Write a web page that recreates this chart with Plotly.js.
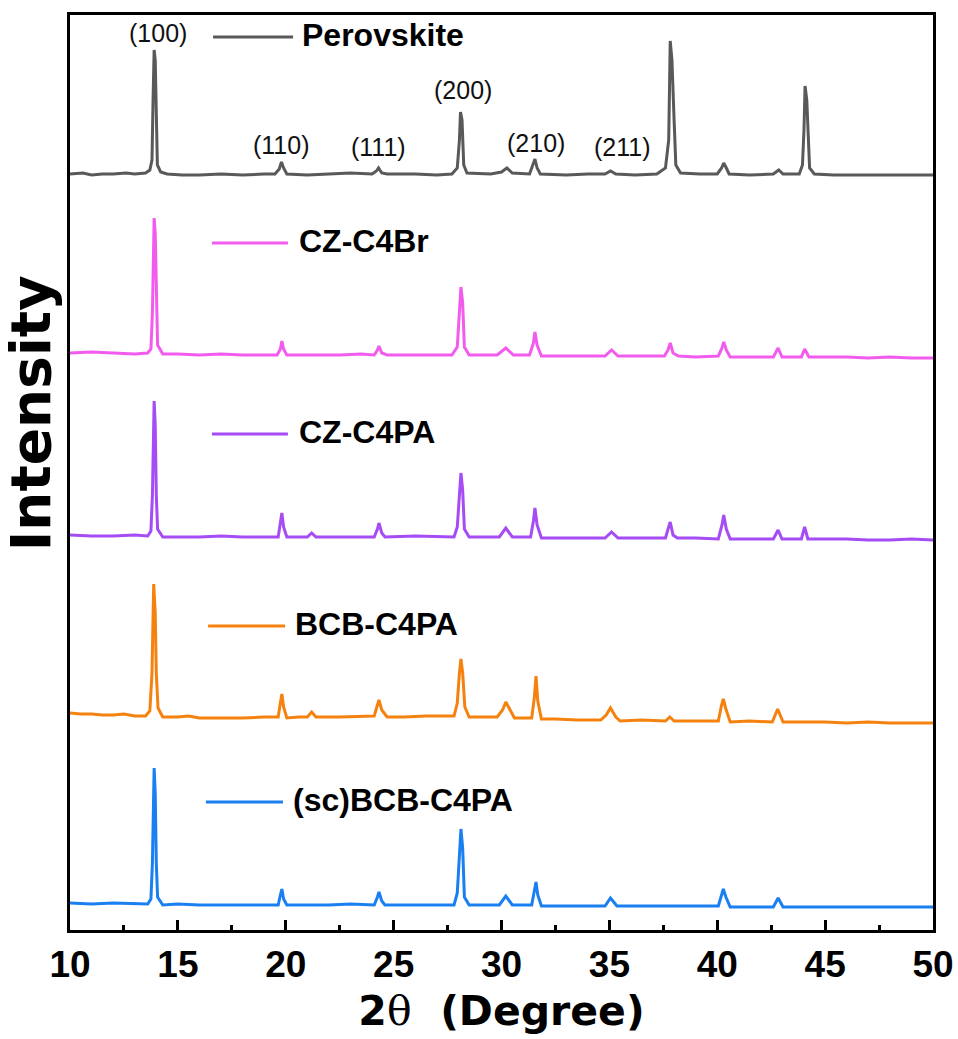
<!DOCTYPE html>
<html>
<head>
<meta charset="utf-8">
<script src="https://cdn.plot.ly/plotly-3.0.1.min.js"></script>
<style>html,body{margin:0;padding:0;background:#fff;}#chart{width:958px;height:1039px;}</style>
</head>
<body>
<div id="chart"></div>
<script>
// ---- Data ----
const seriesNames = ['Perovskite', 'CZ-C4Br', 'CZ-C4PA', 'BCB-C4PA', '(sc)BCB-C4PA'];
// vertical stacking offsets (a.u.)
const offsets = [756, 577, 395, 217, 27];

const xPerovskite = [10.0,10.6,11.0,11.5,12.0,12.6,13.0,13.5,13.7,13.8,13.85,13.9,13.95,14.0,14.05,14.2,14.5,15.2,16.0,17.0,18.0,19.0,19.5,19.7,19.8,19.9,20.05,21.0,22.0,23.0,24.0,24.2,24.3,24.45,24.7,26.0,27.0,27.7,27.95,28.05,28.1,28.17,28.25,28.4,29.5,30.0,30.25,30.5,31.3,31.45,31.55,31.65,31.8,33.0,34.0,34.8,35.05,35.3,36.2,37.2,37.6,37.75,37.82,37.9,37.95,38.0,38.08,38.3,39.2,40.0,40.2,40.3,40.4,40.55,41.5,42.6,42.85,43.05,43.8,43.95,44.02,44.07,44.15,44.2,44.28,44.5,45.4,47.5,50.0];
const yPerovskite = [0,1,-1,0,0,1,0,1,4,14,74,124,114,34,9,2,0,-1,-1,0,-1,0,0,5,12,6,0,-1,0,1,0,3,6,1,0,0,-1,0,6,34,62,54,9,1,0,2,6,1,0,9,15,6,0,-1,0,0,3,0,-1,0,6,34,133,114,69,54,9,1,0,0,6,11,7,0,-1,0,4,0,0,9,44,88,74,44,6,0,-1,-1,-1];

const xCZC4Br = [10.0,11.0,12.0,13.0,13.6,13.75,13.82,13.9,13.95,14.0,14.06,14.3,15.0,16.0,17.0,18.0,19.6,19.75,19.82,19.9,20.05,21.0,22.5,23.5,24.1,24.25,24.32,24.45,24.7,26.0,27.7,27.95,28.05,28.12,28.2,28.28,28.5,29.2,29.8,30.2,30.55,31.3,31.48,31.55,31.65,31.85,33.0,34.8,35.1,35.4,36.5,37.55,37.72,37.82,37.95,38.2,39.0,40.05,40.22,40.3,40.42,40.6,41.5,42.6,42.82,43.0,43.9,44.05,44.25,45.0,46.0,47.0,48.0,49.0,50.0];
const yCZC4Br = [0,1,0,-1,0,4,40,135,120,50,8,-1,-1,-2,-1,-2,-2,4,12,4,-2,-2,-2,-1,-2,3,7,0,-2,-2,-2,6,40,66,50,6,-2,-2,-2,5,-2,-2,10,21,8,-3,-3,-3,3,-3,-3,-3,3,10,0,-3,-4,-3,5,11,3,-4,-4,-4,5,-4,-4,4,-4,-4,-4,-5,-4,-5,-5];

const xCZC4PA = [10.0,11.0,12.0,13.0,13.6,13.75,13.82,13.9,13.95,14.0,14.06,14.3,15.0,16.0,17.0,18.0,19.65,19.75,19.82,19.9,20.05,21.0,21.2,21.4,22.5,24.1,24.25,24.32,24.45,24.6,26.0,27.8,27.95,28.05,28.12,28.2,28.28,28.5,29.3,29.9,30.2,30.5,31.35,31.48,31.55,31.65,31.85,33.0,34.8,35.1,35.4,36.5,37.6,37.72,37.82,37.95,38.15,39.0,40.05,40.22,40.3,40.42,40.6,41.5,42.6,42.82,43.0,43.9,44.05,44.2,45.0,46.0,47.0,48.0,49.0,50.0];
const yCZC4PA = [0,-1,-1,0,-1,4,40,134,110,40,6,-2,-2,-2,-1,-2,-2,10,22,8,-2,-2,2,-2,-2,-2,6,12,2,-2,-1,-2,8,40,62,45,6,-2,-2,-2,7,-2,-2,14,27,10,-3,-3,-3,3,-3,-3,-3,6,13,0,-3,-3,-4,10,20,6,-4,-4,-4,5,-4,-4,8,-4,-4,-4,-5,-5,-4,-5];

const xBCBC4PA = [10.0,10.5,11.0,11.5,12.0,12.5,13.0,13.5,13.7,13.8,13.88,13.95,14.0,14.08,14.3,15.0,15.5,16.0,17.0,18.0,19.0,19.65,19.75,19.82,19.9,20.05,20.6,21.0,21.2,21.4,22.5,23.5,24.1,24.25,24.32,24.45,24.7,25.5,26.5,27.8,27.95,28.05,28.12,28.2,28.3,28.5,29.3,29.8,30.05,30.2,30.4,30.6,31.4,31.52,31.6,31.68,31.85,32.5,33.5,34.6,34.85,35.05,35.3,35.5,36.5,37.6,37.8,38.0,39.0,40.05,40.2,40.28,40.4,40.6,41.5,42.55,42.8,43.05,44.0,45.0,46.0,47.0,48.0,49.0,50.0];
const yBCBC4PA = [0,-1,-1,-2,-2,-1,-3,-3,2,40,129,100,40,5,-4,-4,-3,-5,-5,-5,-4,-4,10,19,6,-5,-4,-4,1,-4,-4,-3,-3,8,13,3,-4,-4,-3,-3,10,40,54,40,6,-4,-4,-4,3,11,3,-5,-5,15,37,12,-6,-6,-7,-7,-2,5,-4,-8,-7,-8,-4,-8,-8,-8,8,14,4,-9,-8,-9,4,-9,-9,-9,-10,-9,-10,-10,-10];

const xScBCBC4PA = [10.0,11.0,12.0,13.0,13.6,13.75,13.82,13.9,13.95,14.0,14.06,14.3,15.0,16.0,17.0,18.0,19.65,19.75,19.82,19.9,20.05,21.0,22.0,23.0,24.1,24.25,24.32,24.45,24.6,26.0,27.8,27.95,28.05,28.12,28.2,28.28,28.5,29.3,29.9,30.2,30.5,31.4,31.52,31.6,31.68,31.85,33.0,34.8,35.05,35.35,36.0,37.0,38.5,40.05,40.2,40.28,40.4,40.6,41.5,42.6,42.82,43.05,44.0,45.0,46.0,47.0,48.0,49.0,50.0];
const yScBCBC4PA = [0,-1,0,-1,-1,4,40,135,110,40,6,-2,-1,-2,-2,-2,-2,8,14,4,-2,-2,-2,-1,-2,6,11,2,-2,-2,-2,10,50,74,55,6,-2,-2,-2,7,-2,-2,10,21,8,-3,-3,-3,5,-3,-3,-3,-3,-3,8,14,6,-4,-4,-4,5,-4,-4,-4,-4,-4,-4,-4,-4];

// Miller index labels on the Perovskite pattern
const hklLabels = ['(100)', '(110)', '(111)', '(200)', '(210)', '(211)'];
const hklTwoTheta = [14.1, 19.8, 24.3, 28.2, 31.6, 35.6];

// ---- Styles ----
const colors = ['#595959', '#f25cee', '#a64cf5', '#f5820f', '#1a7ff0'];
const xs = [xPerovskite, xCZC4Br, xCZC4PA, xBCBC4PA, xScBCBC4PA];
const ys = [yPerovskite, yCZC4Br, yCZC4PA, yBCBC4PA, yScBCBC4PA];

// label placement (layout only)
const hklY = [897, 785, 783, 840, 787, 783];
const legendPos = [
  {x0: 16.63, x1: 20.34, y: 893, tx: 20.66},
  {x0: 16.58, x1: 20.10, y: 687, tx: 20.52},
  {x0: 16.58, x1: 20.10, y: 496, tx: 20.52},
  {x0: 16.40, x1: 19.97, y: 304, tx: 20.34},
  {x0: 16.30, x1: 19.87, y: 128, tx: 20.24}
];

const traces = seriesNames.map((name, i) => ({
  type: 'scatter',
  mode: 'lines',
  name: name,
  x: xs[i],
  y: ys[i].map(v => v + offsets[i]),
  line: {color: colors[i], width: 3},
  showlegend: false,
  hoverinfo: 'x+y+name'
}));

const shapes = legendPos.map((p, i) => ({
  type: 'line', xref: 'x', yref: 'y',
  x0: p.x0, x1: p.x1, y0: p.y, y1: p.y,
  line: {color: colors[i], width: 3}
}));

const annotations = [];
legendPos.forEach((p, i) => {
  annotations.push({
    xref: 'x', yref: 'y', x: p.tx, y: p.y + 2,
    xanchor: 'left', yanchor: 'middle', showarrow: false,
    text: seriesNames[i],
    font: {family: 'Liberation Sans, Arial, sans-serif', size: 32, color: '#000', weight: 'bold'}
  });
});
hklLabels.forEach((t, i) => {
  annotations.push({
    xref: 'x', yref: 'y', x: hklTwoTheta[i], y: hklY[i],
    xanchor: 'center', yanchor: 'middle', showarrow: false,
    text: t,
    font: {family: 'Liberation Sans, Arial, sans-serif', size: 25, color: '#111'}
  });
});
annotations.push({
  xref: 'paper', yref: 'y', x: -0.045, y: 517,
  xanchor: 'center', yanchor: 'middle', showarrow: false,
  textangle: -90,
  text: 'Intensity',
  font: {family: 'DejaVu Sans, sans-serif', size: 55, color: '#000', weight: 'bold'}
});

const layout = {
  width: 958, height: 1039,
  margin: {l: 70, r: 25, t: 15, b: 109, pad: 0},
  paper_bgcolor: '#fff', plot_bgcolor: '#fff',
  showlegend: false,
  xaxis: {
    range: [10, 50], tick0: 10, dtick: 5,
    showline: true, linewidth: 3, linecolor: '#000', mirror: true,
    ticks: 'inside', ticklen: 10, tickwidth: 3, tickcolor: '#000',
    minor: {dtick: 2.5, ticks: 'inside', ticklen: 5, tickwidth: 3, tickcolor: '#000', showgrid: false},
    showgrid: false, zeroline: false,
    tickfont: {family: 'Liberation Sans, Arial, sans-serif', size: 37, color: '#000', weight: 'bold'},
    title: {
      text: '2<span style="font-family:DejaVu Serif;font-weight:normal">θ</span>\u00a0\u00a0(Degree)',
      font: {family: 'DejaVu Sans, sans-serif', size: 41, color: '#000', weight: 'bold'},
      standoff: 12
    },
    automargin: false
  },
  yaxis: {
    range: [0, 915],
    showline: true, linewidth: 3, linecolor: '#000', mirror: true,
    ticks: '', showticklabels: false,
    showgrid: false, zeroline: false, automargin: false
  },
  shapes: shapes,
  annotations: annotations
};

Plotly.newPlot('chart', traces, layout, {staticPlot: true, displayModeBar: false});
</script>
</body>
</html>
